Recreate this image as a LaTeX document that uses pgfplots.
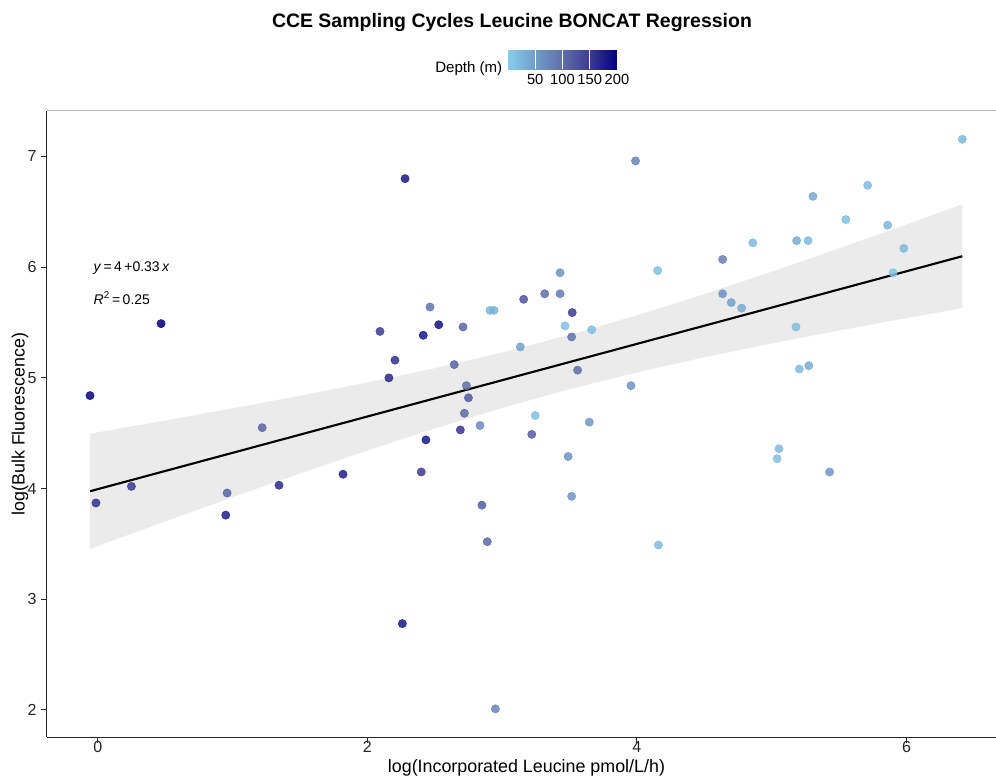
\documentclass[border=0pt]{standalone}
\usepackage{pgfplots}
\pgfplotsset{compat=1.18}
\usepackage{fontspec}
\setmainfont{Liberation Sans}

\pgfplotsset{
  colormap={depthmap}{rgb255(0)=(135,206,235) rgb255(1)=(112,156,200) rgb255(2)=(95,110,170) rgb255(3)=(60,58,145) rgb255(4)=(0,0,128)}
}

\pgfplotstableread{
x y d
0.47 5.49 200
-0.057 4.84 195
0.25 4.02 150
-0.013 3.87 160
0.96 3.96 110
0.95 3.76 175
1.22 4.55 110
1.345 4.03 165
1.82 4.13 175
2.40 4.15 150
2.435 4.44 180
2.26 2.78 180
2.69 4.53 155
2.72 4.68 105
2.836 4.57 70
2.85 3.85 115
2.89 3.52 105
2.95 2.01 75
2.28 6.80 180
3.99 6.96 80
3.43 5.95 60
3.316 5.76 100
3.43 5.76 85
3.16 5.71 125
3.52 5.59 150
2.465 5.64 95
2.91 5.61 25
2.94 5.61 30
2.53 5.48 185
2.094 5.42 150
2.415 5.385 180
2.71 5.46 110
3.467 5.47 15
3.665 5.435 15
3.516 5.37 95
3.135 5.28 45
2.205 5.16 160
2.645 5.12 110
2.16 5.00 165
3.56 5.07 100
3.956 4.93 60
2.735 4.93 100
2.75 4.82 120
3.246 4.66 15
3.647 4.60 55
3.22 4.49 115
3.49 4.29 60
3.516 3.93 55
6.414 7.155 20
5.712 6.74 20
5.306 6.64 35
5.55 6.43 15
5.86 6.38 25
4.86 6.22 20
5.185 6.24 35
5.27 6.24 20
5.98 6.17 20
4.636 6.07 80
4.154 5.97 15
5.90 5.95 10
4.636 5.76 60
4.70 5.68 45
4.777 5.63 35
5.18 5.46 15
5.205 5.08 20
5.275 5.11 35
5.054 4.36 20
5.04 4.27 15
5.43 4.15 55
4.16 3.49 20
}\pointdata

\begin{document}
\begin{tikzpicture}
\begin{axis}[
    scale only axis,
    width=719.8pt, height=469.8pt,
    xmin=-0.38, xmax=6.74,
    ymin=1.753, ymax=7.412,
    xtick={0,2,4,6},
    ytick={2,3,4,5,6,7},
    axis x line*=bottom,
    axis y line*=left,
    axis line style={black!85, line width=0.9pt, -},
    tick style={black!85, line width=0.8pt},
    major tick length=4pt,
    tick align=outside,
    /pgf/number format/assume math mode=true,
    tick label style={font=\fontsize{12}{14}\selectfont, black!85},
    xticklabel style={yshift=2.2pt, inner sep=1pt},
    xlabel={log(Incorporated Leucine pmol/L/h)},
    ylabel={log(Bulk Fluorescence)},
    label style={font=\fontsize{13.4}{16}\selectfont},
    xlabel style={at={(0.5001,-0.049)}, anchor=center, inner sep=0pt},
    ylabel style={at={(-0.0276,0.5)}, anchor=center},
    title={CCE Sampling Cycles Leucine BONCAT Regression},
    title style={at={(0.485,1.129)}, anchor=center, font=\bfseries\fontsize{14.6}{17}\selectfont},
    clip=false,
    colormap name=depthmap,
    point meta min=0, point meta max=200,
    colorbar horizontal,
    colorbar style={
        at={(0.5376,1.0667)}, anchor=south,
        scale only axis,
        width=81.75pt, height=16.5pt,
        xtick={50,100,150,200},
        axis line style={draw=none},
        xtick style={white, line width=0.5pt},
        major tick length=16.5pt,
        tick align=inside,
        xticklabel style={font=\fontsize{11}{13}\selectfont, black},
        /pgf/number format/assume math mode=true,
    },
]
\coordinate (sw) at (rel axis cs:0,0);
\draw[gray!55, line width=0.8pt] (rel axis cs:0,1) -- (rel axis cs:1,1);

\addplot[scatter, only marks, mark=*, mark size=3.1pt,
    scatter src=explicit,
    scatter/use mapped color={draw=mapped color, fill=mapped color},
    opacity=0.85]
    table[x=x, y=y, meta=d] {\pointdata};

\addplot[draw=none, fill=black, fill opacity=0.08] coordinates {
(-0.057,4.496) (0.5,4.615) (1.0,4.725) (1.5,4.838) (2.0,4.958) (2.5,5.087)
(3.0,5.230) (3.5,5.388) (4.0,5.565) (4.5,5.756) (5.0,5.959) (5.5,6.170)
(6.0,6.386) (6.414,6.568)
(6.414,5.630) (6.0,5.540) (5.5,5.428) (5.0,5.311) (4.5,5.186) (4.0,5.050)
(3.5,4.898) (3.0,4.728) (2.5,4.543) (2.0,4.344) (1.5,4.136) (1.0,3.922)
(0.5,3.703) (-0.057,3.456)
} -- cycle;

\addplot[black, line width=1.6pt] coordinates {(-0.057,3.976) (6.414,6.099)};

\node[anchor=west, font=\fontsize{10.5}{12}\selectfont] at (axis cs:-0.065,5.99)
    {\textit{y}\,=\,4\,+0.33\,\textit{x}};
\node[anchor=west, font=\fontsize{10.5}{12}\selectfont] at (axis cs:-0.065,5.72)
    {\textit{R}\textsuperscript{2}\,=\,0.25};
\node[anchor=east, font=\fontsize{11.3}{13}\selectfont] at (rel axis cs:0.4798,1.0683) {Depth (m)};
\end{axis}
\pgfresetboundingbox
\path[use as bounding box] ([shift={(-34.875pt,-30.525pt)}]sw) rectangle ++(747pt,583.5pt);
\end{tikzpicture}
\end{document}
